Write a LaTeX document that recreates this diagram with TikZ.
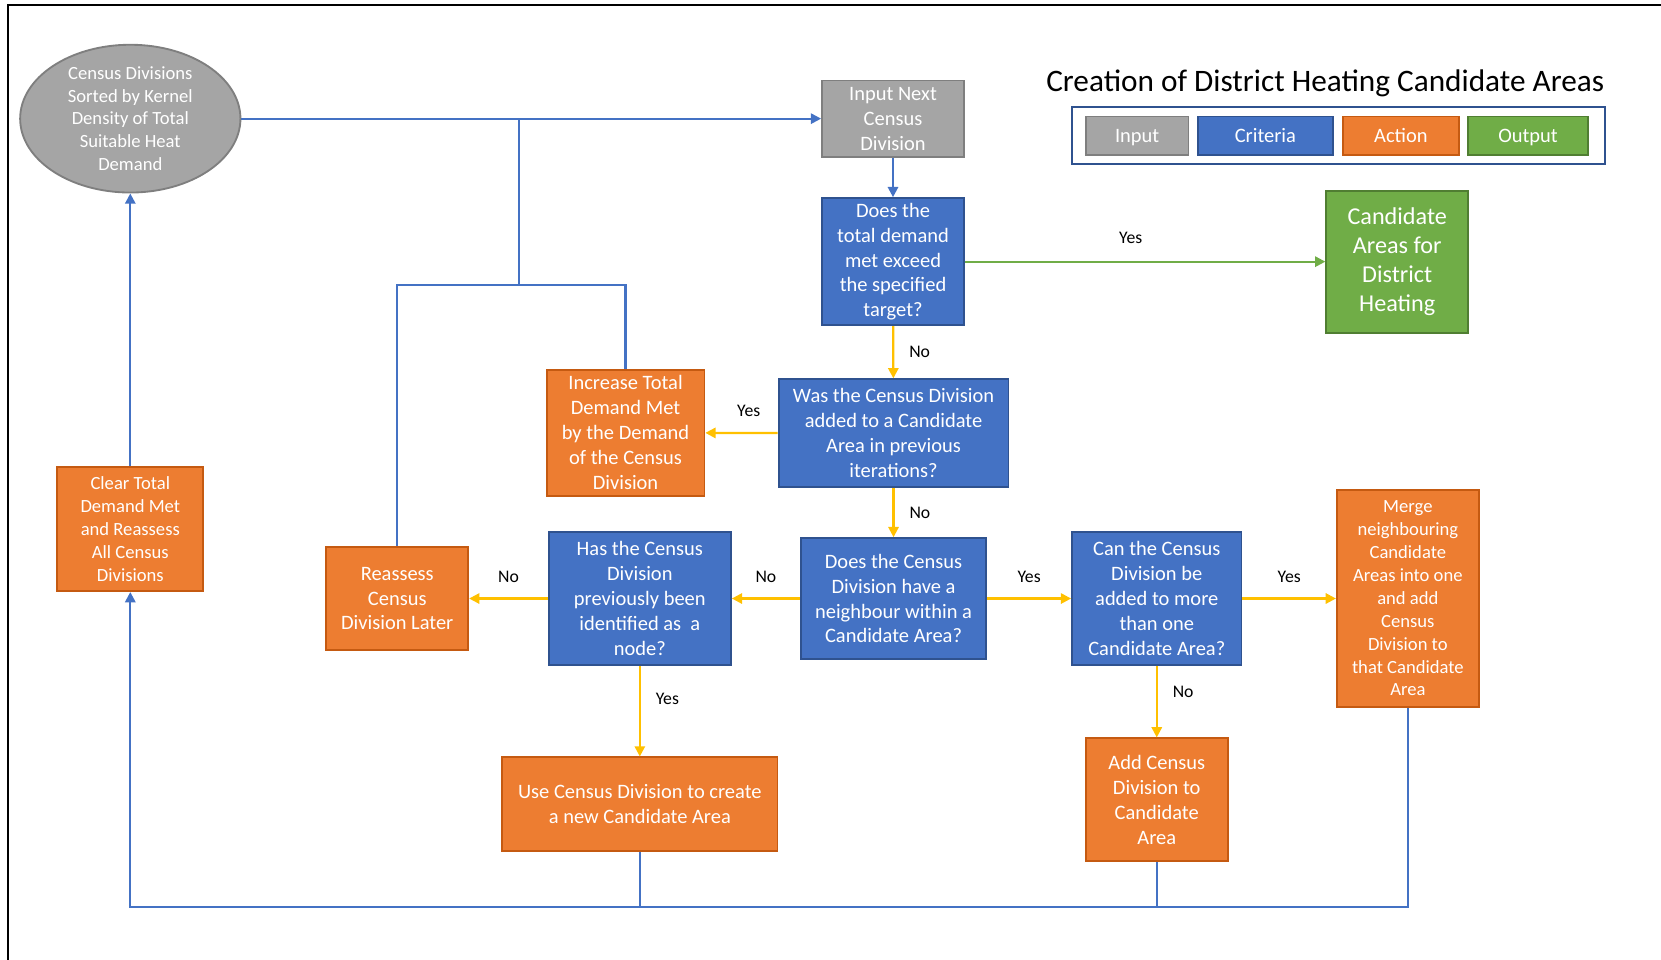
\documentclass[tikz,border=0pt]{standalone}
\usepackage{fontspec}
\setmainfont{Carlito}
\usetikzlibrary{arrows.meta,shapes.geometric}

\definecolor{inputgray}{HTML}{A5A5A5}
\definecolor{inputedge}{HTML}{7F7F7F}
\definecolor{critblue}{HTML}{4472C4}
\definecolor{critedge}{HTML}{2F528F}
\definecolor{actorange}{HTML}{ED7D31}
\definecolor{actedge}{HTML}{C55A11}
\definecolor{outgreen}{HTML}{70AD47}
\definecolor{outedge}{HTML}{507E32}
\definecolor{noyellow}{HTML}{FFC000}

\begin{document}
\begin{tikzpicture}[x=0.02cm,y=-0.02cm,
  cell/.style={line width=1pt, text=white, align=center, inner sep=0pt},
  inputbox/.style={cell, fill=inputgray, draw=inputedge},
  critbox/.style={cell, fill=critblue, draw=critedge},
  actbox/.style={cell, fill=actorange, draw=actedge},
  outbox/.style={cell, fill=outgreen, draw=outedge},
  bigtext/.style={font=\fontsize{11}{13.4}\selectfont},
  smalltext/.style={font=\fontsize{10}{12.3}\selectfont},
  keytext/.style={bigtext, text height=1.9ex, text depth=0.3ex, minimum height=0.72cm},
  flow/.style={line width=1.2pt, -{Triangle[length=5.5pt,width=5.5pt]}},
  bluelink/.style={line width=1.2pt, draw=critblue},
  yesno/.style={font=\fontsize{9.5}{11}\selectfont, text=black, inner sep=1pt}]
\useasboundingbox (0,0) rectangle (1568,906);
\draw[line width=1.1pt] (8,906) -- (8,5) -- (1568,5);

% title and legend
\node[font=\fontsize{16.8}{20}\selectfont] (title) at (1251,79) {Creation of District Heating Candidate Areas};
\node[draw=critedge, line width=1pt, minimum width=10.06cm, minimum height=1.08cm] (legend) at (1263.5,128) {};
\node[inputbox, keytext, minimum width=1.94cm] (kinput) at (1073.5,128) {Input};
\node[critbox, keytext, minimum width=2.54cm] (kcrit) at (1194.5,128) {Criteria};
\node[actbox, keytext, minimum width=2.18cm] (kact) at (1322.5,128) {Action};
\node[outbox, keytext, minimum width=2.26cm] (kout) at (1442.5,128) {Output};

% nodes
\node[ellipse, cell, fill=inputgray, draw=inputedge, smalltext, minimum width=4.16cm, minimum height=2.7cm] (sorted) at (123,112) {Census Divisions\\Sorted by Kernel\\Density of Total\\Suitable Heat\\Demand};
\node[inputbox, bigtext, minimum width=2.68cm, minimum height=1.44cm] (input) at (843,112) {Input Next\\Census\\Division};
\node[critbox, bigtext, minimum width=2.68cm, minimum height=2.4cm] (target) at (843,247) {Does the\\total demand\\met exceed\\the specified\\target?};
\node[outbox, font=\fontsize{13}{15.7}\selectfont, minimum width=2.68cm, minimum height=2.68cm] (result) at (1319,247) {Candidate\\Areas for\\District\\Heating};
\node[critbox, bigtext, minimum width=4.34cm, minimum height=2.04cm] (previous) at (843.5,409) {Was the Census Division\\added to a Candidate\\Area in previous\\iterations?};
\node[actbox, bigtext, minimum width=2.98cm, minimum height=2.38cm] (increase) at (590.5,408.5) {Increase Total\\Demand Met\\by the Demand\\of the Census\\Division};
\node[critbox, bigtext, minimum width=3.5cm, minimum height=2.28cm] (neighbour) at (843.5,565) {Does the Census\\Division have a\\neighbour within a\\Candidate Area?};
\node[critbox, bigtext, minimum width=3.44cm, minimum height=2.52cm] (seed) at (604,565) {Has the Census\\Division\\previously been\\identified as\ \ a\\node?};
\node[actbox, bigtext, minimum width=2.68cm, minimum height=1.94cm] (reassess) at (375,565) {Reassess\\Census\\Division Later};
\node[actbox, smalltext, minimum width=2.76cm, minimum height=2.34cm] (clear) at (123,499.5) {Clear Total\\Demand Met\\and Reassess\\All Census\\Divisions};
\node[actbox, bigtext, minimum width=5.2cm, minimum height=1.76cm] (create) at (604,759) {Use Census Division to create\\a new Candidate Area};
\node[critbox, bigtext, minimum width=3.2cm, minimum height=2.5cm] (several) at (1092,565) {Can the Census\\Division be\\added to more\\than one\\Candidate Area?};
\node[actbox, bigtext, minimum width=2.68cm, minimum height=2.32cm] (addto) at (1092,755) {Add Census\\Division to\\Candidate\\Area};
\node[actbox, smalltext, minimum width=2.68cm, minimum height=4.1cm] (merge) at (1329,565) {Merge\\neighbouring\\Candidate\\Areas into one\\and add\\Census\\Division to\\that Candidate\\Area};

% connectors
\draw[flow, critblue] (sorted) -- (input);
\draw[flow, critblue] (input) -- (target);
\draw[flow, outgreen] (target) -- node[yesno, above=8pt, pos=0.46] {Yes} (result);
\draw[flow, noyellow] (target) -- node[yesno, right=7pt] {No} (previous);
\draw[flow, noyellow] (previous) -- node[yesno, above=7pt, pos=0.4] {Yes} (increase);
\draw[flow, noyellow] (previous) -- node[yesno, right=7pt] {No} (neighbour);
\draw[flow, noyellow] (neighbour) -- node[yesno, above=7pt] {No} (seed);
\draw[flow, noyellow] (seed) -- node[yesno, above=7pt] {No} (reassess);
\draw[flow, noyellow] (seed) -- node[yesno, right=7pt, pos=0.36] {Yes} (create);
\draw[flow, noyellow] (neighbour) -- node[yesno, above=7pt] {Yes} (several);
\draw[flow, noyellow] (several) -- node[yesno, above=7pt] {Yes} (merge);
\draw[flow, noyellow] (several) -- node[yesno, right=7pt, pos=0.36] {No} (addto);

% loops back to the start
\coordinate (split) at (490,269);
\coordinate (base) at (123,856);
\draw[bluelink] (reassess.north) |- (split) -| (increase.north);
\draw[bluelink] (split) -- (split |- sorted.east);
\draw[flow, critblue] (merge.south) |- (base) -- (clear.south);
\draw[bluelink] (create.south) -- (create.south |- base);
\draw[bluelink] (addto.south) -- (addto.south |- base);
\draw[flow, critblue] (clear) -- (sorted);
\end{tikzpicture}
\end{document}
